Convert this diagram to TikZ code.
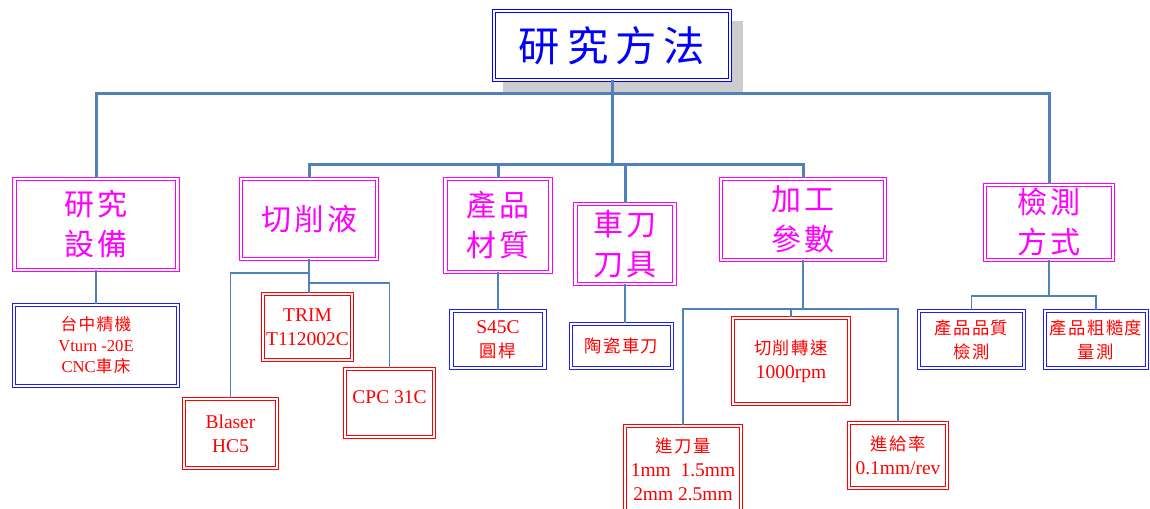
\documentclass[tikz,border=0pt]{standalone}
\usepackage{fontspec}
\setmainfont{Liberation Serif}
\newfontfamily\cjkA[LetterSpace=17]{Noto Sans CJK TC}
\newfontfamily\cjkB[LetterSpace=10]{Noto Sans CJK TC}
\newfontfamily\cjkC[LetterSpace=8]{Noto Sans CJK TC}
\newcommand\cj[1]{{\fontsize{13}{18}\selectfont\cjkC #1}}
\newcommand\cjs[1]{{\fontsize{12.5}{15.75}\selectfont\cjkC #1}}
\definecolor{conn}{HTML}{4F81BD}
\definecolor{mag}{HTML}{FF00FF}
\definecolor{bbl}{HTML}{2020EE}
\definecolor{rd}{HTML}{FF0000}
\definecolor{ttl}{HTML}{0000FF}
\definecolor{shadowc}{HTML}{CCCCCC}
\tikzset{
  box/.style={rectangle, inner sep=0pt, align=center, line width=0.75pt, double=white, double distance=1.7pt, fill=white},
  mbox/.style={box, draw=mag, text=mag, font=\fontsize{22.5}{30}\selectfont\cjkB},
  bbox/.style={box, draw=bbl, text=rd, font=\fontsize{14.6}{18}\selectfont},
  rbox/.style={box, draw=rd, text=rd, font=\fontsize{14.6}{18}\selectfont},
  tbox/.style={box, draw=ttl, text=ttl, font=\fontsize{31}{31}\selectfont\cjkA},
  link/.style={draw=conn, line width=2.25pt},
  sublink/.style={draw=conn, line width=1.4pt},
  sz/.style 2 args={minimum width={#1*0.75pt}, minimum height={#2*0.75pt}}
}
\begin{document}
\begin{tikzpicture}[x=0.75pt, y=-0.75pt]
\useasboundingbox (0,0) rectangle (1150,509);
% junction levels
\coordinate (h1) at (0,94);
\coordinate (h2) at (0,165);
\coordinate (j1) at (0,273);
\coordinate (j2) at (0,283);
\coordinate (h3) at (0,309);
\coordinate (h4) at (0,296);
% title with shadow
\fill[shadowc] (503,21) rectangle (743,93);
\node[tbox, sz={236}{69}] (title) at (612,45.5) {研究方法};
% level 1
\node[mbox, sz={163}{91}] (r1) at (96,224.5) {研究\\設備};
\node[mbox, sz={136}{80}] (r2) at (309,219) {切削液};
\node[mbox, sz={105}{93}] (r3) at (498,225.5) {產品\\材質};
\node[mbox, sz={99}{80}] (r4) at (625,244) {車刀\\刀具};
\node[mbox, sz={164}{81}] (r5) at (803,219.5) {加工\\參數};
\node[mbox, sz={128}{75}] (r6) at (1049,222.5) {檢測\\方式};
% level 2
\node[bbox, sz={164}{81}, font=\fontsize{12.5}{15.75}\selectfont] (d1) at (96,345.5) {\cjs{台中精機}\\Vturn -20E\\CNC\cjs{車床}};
\node[rbox, sz={89}{66}] (trim) at (307.5,327) {TRIM\\T112002C};
\node[rbox, sz={89}{68}] (cpc) at (389.5,403) {\raisebox{9pt}{CPC 31C}};
\node[rbox, sz={93}{69}] (blaser) at (230.5,433.5) {Blaser\\HC5};
\node[bbox, sz={93}{57}] (s45) at (498,339.5) {S45C\\\cj{圓桿}};
\node[bbox, sz={101}{44}] (tao) at (621.5,346) {\cj{陶瓷車刀}};
\node[rbox, sz={116}{86}] (speed) at (791,361) {\cj{切削轉速}\\1000rpm};
\node[rbox, sz={116}{87}] (jin) at (683,469.5) {\cj{進刀量}\\1mm\ \ 1.5mm\\2mm 2.5mm};
\node[rbox, sz={98}{65}] (gei) at (898,455.5) {\cj{進給率}\\0.1mm/rev};
\node[bbox, sz={105}{57}] (q1) at (971.5,339.5) {\cj{產品品質}\\\cj{檢測}};
\node[bbox, sz={102}{57}] (q2) at (1096,339.5) {\cj{產品粗糙度}\\\cj{量測}};
% connectors level 0-1
\draw[link] (title.south) -- (title.south |- h2);
\draw[link] (r1.north) -- (r1.north |- h1) -- (r6.north |- h1) -- (r6.north);
\draw[link] (r2.north) -- (r2.north |- h2) -- (r5.north |- h2) -- (r5.north);
\draw[link] (r3.north) -- (r3.north |- h2);
\draw[link] (r4.north) -- (r4.north |- h2);
% connectors level 1-2
\draw[sublink] (r1.south) -- (r1.south |- d1.north);
\draw[sublink] (r2.south) -- (r2.south |- trim.north);
\draw[sublink] (r2.south |- j1) -| (blaser.north);
\draw[sublink] (r2.south |- j2) -| (cpc.north);
\draw[sublink] (r3.south) -- (r3.south |- s45.north);
\draw[sublink] (r4.south) -- (r4.south |- tao.north);
\draw[sublink] (r5.south) -- (r5.south |- h3);
\draw[sublink] (jin.north) -- (jin.north |- h3) -- (gei.north |- h3) -- (gei.north);
\draw[sublink] (speed.north) -- (speed.north |- h3);
\draw[sublink] (r6.south) -- (r6.south |- h4);
\draw[sublink] (q1.north) -- (q1.north |- h4) -- (q2.north |- h4) -- (q2.north);
\end{tikzpicture}
\end{document}
